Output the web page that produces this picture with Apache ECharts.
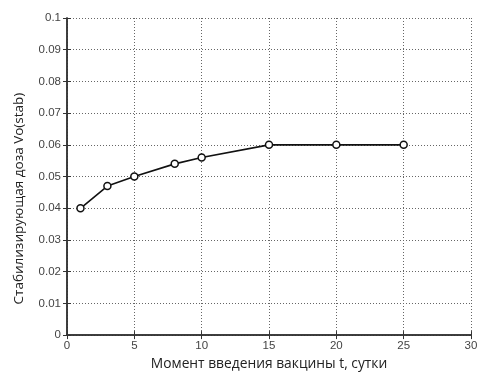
<!DOCTYPE html>
<html>
<head>
<meta charset="utf-8">
<script src="https://cdn.jsdelivr.net/npm/echarts@6/dist/echarts.min.js"></script>
<style>
html,body{margin:0;padding:0;background:#fff;}
#chart{width:481px;height:376px;}
</style>
</head>
<body>
<div id="chart"></div>
<script>
// data
var days = [1, 3, 5, 8, 10, 15, 20, 25];
var doses = [0.04, 0.047, 0.05, 0.054, 0.056, 0.06, 0.06, 0.06];

var points = days.map(function (d, i) { return [d, doses[i]]; });

var chart = echarts.init(document.getElementById('chart'));

var gridLine = { show: true, lineStyle: { color: '#666', type: [1, 2], width: 1 } };
var axisTxt = { color: '#444', fontSize: 11.5, fontFamily: 'Liberation Sans, Arial, sans-serif' };

var option = {
  animation: false,
  grid: { left: 67, right: 10, top: 18, bottom: 38 },
  xAxis: [{
    type: 'value', min: 0, max: 30, interval: 5,
    name: 'Момент введения вакцины t, сутки',
    nameLocation: 'middle', nameGap: 21,
    nameTextStyle: { color: '#222', fontSize: 13.8, fontFamily: 'Open Sans, sans-serif' },
    axisLine: { show: true, lineStyle: { color: '#333', width: 1.5 } },
    axisTick: { show: true, inside: true, length: 4, lineStyle: { color: '#333' } },
    axisLabel: Object.assign({ margin: 5 }, axisTxt),
    splitLine: gridLine
  }, {
    type: 'value', min: 0, max: 30, interval: 5, position: 'top',
    axisLine: { show: true, lineStyle: { color: '#333', width: 1.5 } },
    axisTick: { show: true, inside: true, length: 4, lineStyle: { color: '#333' } },
    axisLabel: { show: false }, splitLine: { show: false }
  }],
  yAxis: [{
    type: 'value', min: 0, max: 0.1, interval: 0.01,
    name: 'Стабилизирующая доза Vo(stab)',
    nameLocation: 'middle', nameGap: 41,
    nameTextStyle: { color: '#222', fontSize: 13.5, fontFamily: 'Open Sans, sans-serif', padding: [0, 0, 0, -44] },
    axisLine: { show: true, lineStyle: { color: '#333', width: 1.5 } },
    axisTick: { show: true, inside: true, length: 4, lineStyle: { color: '#333' } },
    axisLabel: Object.assign({ margin: 6, formatter: function (v) { return String(+v.toFixed(2)); } }, axisTxt),
    splitLine: gridLine
  }, {
    type: 'value', min: 0, max: 0.1, interval: 0.01, position: 'right',
    axisLine: { show: true, lineStyle: { color: '#333', width: 1.5 } },
    axisTick: { show: true, inside: true, length: 4, lineStyle: { color: '#333' } },
    axisLabel: { show: false }, splitLine: { show: false }
  }],
  series: [{
    type: 'line',
    data: points,
    symbol: 'circle',
    symbolSize: 7,
    itemStyle: { color: '#fff', borderColor: '#111', borderWidth: 1.5 },
    lineStyle: { color: '#111', width: 1.6 }
  }]
};

chart.setOption(option);
</script>
</body>
</html>
